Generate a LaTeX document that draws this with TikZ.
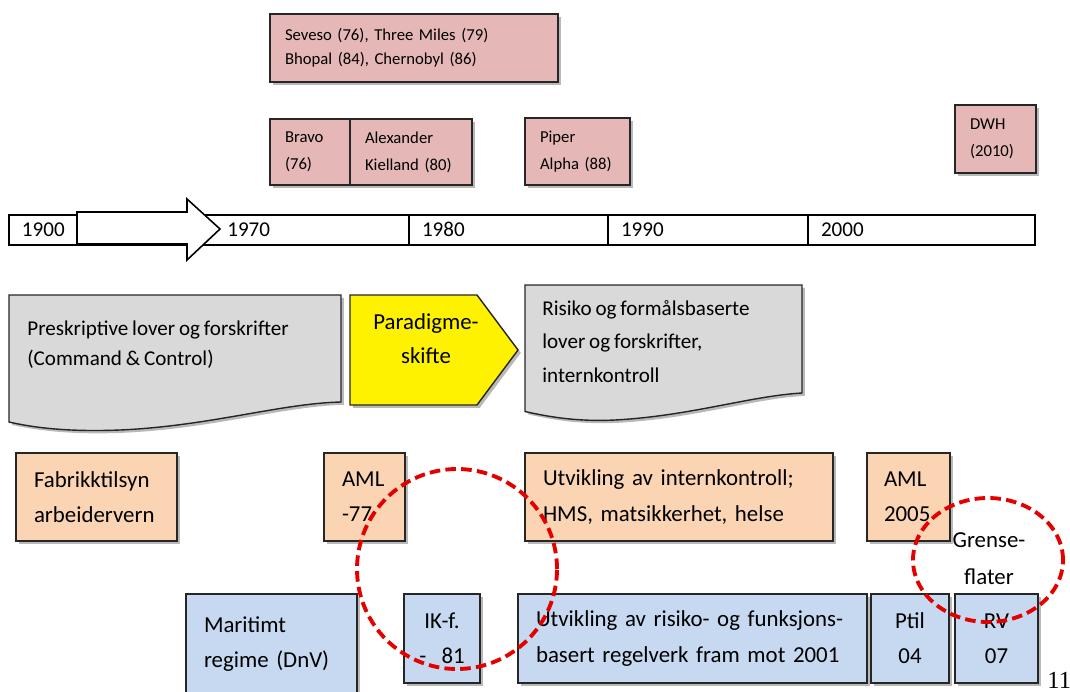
\documentclass[tikz,border=0pt]{standalone}
\usepackage{fontspec}
\setmainfont[WordSpace=0.8]{Carlito}
\newfontfamily\pagefont{Liberation Serif}
\usepackage{xcolor}
\usepackage{tikz}
\usetikzlibrary{positioning,shadows}

\definecolor{incidentpink}{HTML}{E5B8B7}
\definecolor{lawpeach}{HTML}{FBD4B4}
\definecolor{ruleblue}{HTML}{C6D9F1}
\definecolor{regimegray}{HTML}{D9D9D9}

\tikzset{
  boxshadow/.style={drop shadow={shadow xshift=1.6pt, shadow yshift=-1.6pt, opacity=0.55}},
  incident/.style={draw=black!85, line width=0.8pt, fill=incidentpink, boxshadow,
                   align=left, inner xsep=0.3cm, inner ysep=0pt, outer sep=0pt,
                   font=\fontsize{9.5}{15.4}\selectfont},
  lawbox/.style={draw=black!85, line width=0.8pt, fill=lawpeach, boxshadow,
                 align=left, inner xsep=0.36cm, inner ysep=0pt, outer sep=0pt,
                 minimum height=1.76cm, font=\fontsize{13}{20}\selectfont},
  rulebox/.style={lawbox, fill=ruleblue, minimum height=1.78cm},
  yearcell/.style={draw=black, line width=0.9pt, fill=white, anchor=west,
                   minimum height=0.6cm, inner xsep=0.26cm, inner ysep=0pt, outer sep=0pt,
                   align=left, text height=1.6ex, text depth=0pt,
                   font=\fontsize{12}{14}\selectfont},
  regime/.style={draw=black!85, line width=0.8pt, fill=regimegray, boxshadow},
  ring/.style={draw=red!90!black, line width=2.2pt, dash pattern=on 6pt off 3pt},
}

\begin{document}
\begin{tikzpicture}

    \useasboundingbox (0, 0) rectangle (21.4, 13.82);

    % Accidents
    \node[incident, text width=5.16cm, minimum height=1.36cm,
          font=\fontsize{9.5}{13.7}\selectfont] (seveso) at (8.28, 12.86)
        {Seveso (76), Three Miles (79)\\Bhopal (84), Chernobyl (86)};

    \node[incident, text width=1.0cm, minimum height=1.32cm] (bravo) at (6.2, 10.78)
        {Bravo\\(76)};
    \node[incident, text width=1.84cm, minimum height=1.32cm, right=0pt of bravo] (kielland)
        {Alexander\\Kielland (80)};
    \node[incident, text width=1.5cm, minimum height=1.34cm] (piper) at (11.55, 10.79)
        {Piper\\Alpha (88)};
    \node[incident, text width=1.02cm, minimum height=1.36cm] (dwh) at (19.91, 11.04)
        {DWH\\(2010)};

    % Timeline
    \node[yearcell, text width=0.84cm] (y1900) at (0.18, 9.22) {1900};
    \node[yearcell, text width=6.12cm, right=0pt of y1900] (y1970) {};
    \node[yearcell, text width=3.46cm, right=0pt of y1970] (y1980) {1980};
    \node[yearcell, text width=3.48cm, right=0pt of y1980] (y1990) {1990};
    \node[yearcell, text width=4.02cm, right=0pt of y1990] (y2000) {2000};

    \draw[line width=0.9pt, fill=white] (1.54, 9.58) -- (3.74, 9.58) -- (3.74, 9.84)
        -- (4.40, 9.24) -- (3.74, 8.62) -- (3.74, 8.94) -- (1.54, 8.94) -- cycle;
    \node[anchor=west, inner sep=0pt, text height=1.6ex, text depth=0pt,
          font=\fontsize{12}{14}\selectfont] (l1970) at (4.54, 9.22) {1970};

    % Regimes
    \draw[regime] (0.18, 7.92) -- (6.82, 7.92) -- (6.82, 5.78)
        .. controls (5.6, 5.75) and (4.2, 5.3) .. (2.4, 5.22)
        .. controls (1.4, 5.18) and (0.7, 5.26) .. (0.18, 5.38) -- cycle;
    \node[anchor=west, align=left, inner sep=0pt,
          font=\fontsize{12}{17}\selectfont] (prescr) at (0.54, 6.92)
        {Preskriptive lover og forskrifter\\(Command \& Control)};

    \draw[draw=black!85, line width=0.8pt, fill=yellow, boxshadow]
        (7.0, 7.92) -- (9.54, 7.92) -- (10.36, 6.82) -- (9.54, 5.72) -- (7.0, 5.72) -- cycle;
    \node[align=center, font=\fontsize{13}{19}\selectfont] (shift) at (8.52, 7.05)
        {Paradigme-\\skifte};

    \draw[regime] (10.5, 8.12) -- (16.04, 8.12) -- (16.04, 5.96)
        .. controls (15.0, 5.9) and (13.8, 5.5) .. (12.3, 5.42)
        .. controls (11.5, 5.38) and (10.9, 5.5) .. (10.5, 5.59) -- cycle;
    \node[anchor=west, align=left, inner sep=0pt,
          font=\fontsize{12}{19}\selectfont] (riskbased) at (10.84, 6.99)
        {Risiko og formålsbaserte\\lover og forskrifter,\\internkontroll};

    % Onshore
    \node[lawbox, text width=2.5cm] (fabrikk) at (1.93, 3.88) {Fabrikktilsyn\\arbeidervern};
    \node[lawbox, text width=0.9cm] (aml77) at (7.29, 3.88) {AML\\-77};
    \node[lawbox, text width=5.44cm] (internal) at (13.58, 3.88)
        {Utvikling av internkontroll;\\HMS, matsikkerhet, helse};
    \node[lawbox, text width=0.98cm, inner xsep=0.34cm] (aml05) at (18.17, 3.88) {AML\\2005};

    % Offshore
    \node[rulebox, text width=2.7cm, minimum height=2.0cm] (maritime) at (5.43, 0.94)
        {Maritimt\\regime (DnV)};
    \node[rulebox, text width=1.0cm, inner xsep=0.26cm, align=center] (ikf) at (8.84, 1.05)
        {IK-f.\\-~~81};
    \node[rulebox, text width=6.26cm] (riskrules) at (13.85, 1.05)
        {Utvikling av risiko- og funksjons-\\basert regelverk fram mot 2001};
    \node[rulebox, text width=0.84cm, align=center, right=0.08cm of riskrules] (ptil) {Ptil\\04};
    \node[rulebox, text width=0.94cm, align=center, right=0.12cm of ptil] (rv) {RV\\07};

    % --------------------
    % Rings
    % --------------------

    \draw[ring] (9.14, 2.44) circle (2.0cm);
    \draw[ring] (19.76, 2.62) ellipse (1.5cm and 1.24cm);

    \node[align=center, font=\fontsize{13}{21}\selectfont] (interface) at (19.78, 2.65)
        {Grense-\\flater};

    \node[anchor=base west, inner sep=0pt, font=\pagefont\fontsize{14}{14}\selectfont]
        (pagenum) at (20.94, 0.06) {11};

\end{tikzpicture}
\end{document}
